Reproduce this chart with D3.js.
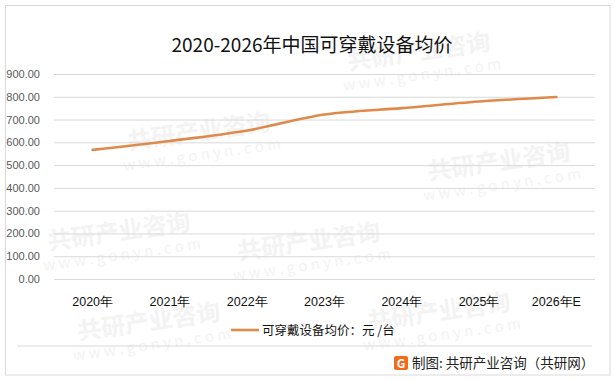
<!DOCTYPE html>
<html>
<head>
<meta charset="utf-8">
<script src="https://cdn.jsdelivr.net/npm/d3@7"></script>
<style>
  html, body { margin: 0; padding: 0; background: #fff; }
  svg { display: block; font-family: "Noto Sans CJK SC", "Noto Sans", sans-serif; }
</style>
</head>
<body>
<div id="container"></div>
<script>
// 数据
const years = ["2020年", "2021年", "2022年", "2023年", "2024年", "2025年", "2026年E"];
const prices = [567, 606, 652, 722, 750, 779, 799];
const yTicks = [0, 100, 200, 300, 400, 500, 600, 700, 800, 900];

const width = 615, height = 380;
const margin = { left: 54, right: 20, top: 74, bottom: 101 };

const svg = d3.select('#container')
    .append('svg')
    .attr('width', width)
    .attr('height', height);

// 外框
svg.append('rect')
    .attr('x', 5.5).attr('y', 5.5)
    .attr('width', 604.5).attr('height', 369.5)
    .attr('fill', '#fff')
    .attr('stroke', '#d9d9d9');

// 水印
const marks = [[200, 140], [420, 60], [310, 250], [500, 170], [120, 240], [440, 320], [150, 330]];
const wm = svg.append('g').attr('class', 'watermark');
marks.forEach(([mx, my]) => {
    const g = wm.append('g').attr('transform', `translate(${mx},${my}) rotate(-8)`);
    g.append('text').text('共研产业咨询')
        .attr('text-anchor', 'middle')
        .attr('font-size', 24).attr('font-weight', 'bold')
        .attr('fill', '#f3f3f3');
    g.append('text').text('w w w . g o n y n . c o m')
        .attr('text-anchor', 'middle')
        .attr('y', 20)
        .attr('font-size', 15)
        .attr('fill', '#f3f3f3');
});

const x = d3.scaleBand()
    .domain(years)
    .range([margin.left, width - margin.right]);

const y = d3.scaleLinear()
    .domain([0, 900])
    .range([height - margin.bottom, margin.top]);

// 标题
svg.append('text')
    .text('2020-2026年中国可穿戴设备均价')
    .attr('x', 312).attr('y', 52)
    .attr('text-anchor', 'middle')
    .attr('font-size', 19)
    .attr('fill', '#111');

// 网格线 + y轴
const yAxis = svg.append('g')
    .attr('transform', `translate(${margin.left},0)`)
    .call(d3.axisLeft(y).tickValues(yTicks).tickFormat(d3.format('.2f'))
        .tickSize(-(width - margin.left - margin.right)).tickPadding(14));
yAxis.select('.domain').remove();
yAxis.selectAll('.tick line').attr('stroke', '#d9d9d9');
yAxis.selectAll('.tick text')
    .attr('font-size', 11)
    .attr('fill', '#595959')
    .attr('font-family', '"Liberation Sans", "Noto Sans", sans-serif');

// x轴
const xAxis = svg.append('g')
    .attr('transform', `translate(0,${height - margin.bottom})`)
    .call(d3.axisBottom(x).tickSize(0).tickPadding(18));
xAxis.select('.domain').remove();
xAxis.selectAll('.tick text')
    .attr('font-size', 12.5)
    .attr('fill', '#111');

// 折线
const line = d3.line()
    .x((d, i) => x(years[i]) + x.bandwidth() / 2)
    .y(d => y(d))
    .curve(d3.curveCatmullRom.alpha(0.5));

svg.append('path')
    .datum(prices)
    .attr('d', line)
    .attr('fill', 'none')
    .attr('stroke', '#DE8A4B')
    .attr('stroke-width', 2.6)
    .attr('stroke-linecap', 'round');

// 图例
svg.append('line')
    .attr('x1', 231).attr('x2', 259)
    .attr('y1', 330).attr('y2', 330)
    .attr('stroke', '#DE8A4B')
    .attr('stroke-width', 2.6);
svg.append('text')
    .text('可穿戴设备均价：元 /台')
    .attr('x', 262).attr('y', 334.5)
    .attr('font-size', 12.5)
    .attr('fill', '#111');

// 分隔线
svg.append('line')
    .attr('x1', 17).attr('x2', 592)
    .attr('y1', 346).attr('y2', 346)
    .attr('stroke', '#d9d9d9');

// 来源
const icon = svg.append('g').attr('transform', 'translate(394,356)');
icon.append('rect')
    .attr('width', 14).attr('height', 14).attr('rx', 2)
    .attr('fill', '#F26B1D');
icon.append('text').text('G')
    .attr('x', 7).attr('y', 11.5)
    .attr('text-anchor', 'middle')
    .attr('font-size', 12).attr('font-weight', 'bold')
    .attr('fill', '#fff');
svg.append('text')
    .text('制图: 共研产业咨询（共研网）')
    .attr('x', 412).attr('y', 367.5)
    .attr('font-size', 13.5)
    .attr('fill', '#222');
</script>
</body>
</html>
